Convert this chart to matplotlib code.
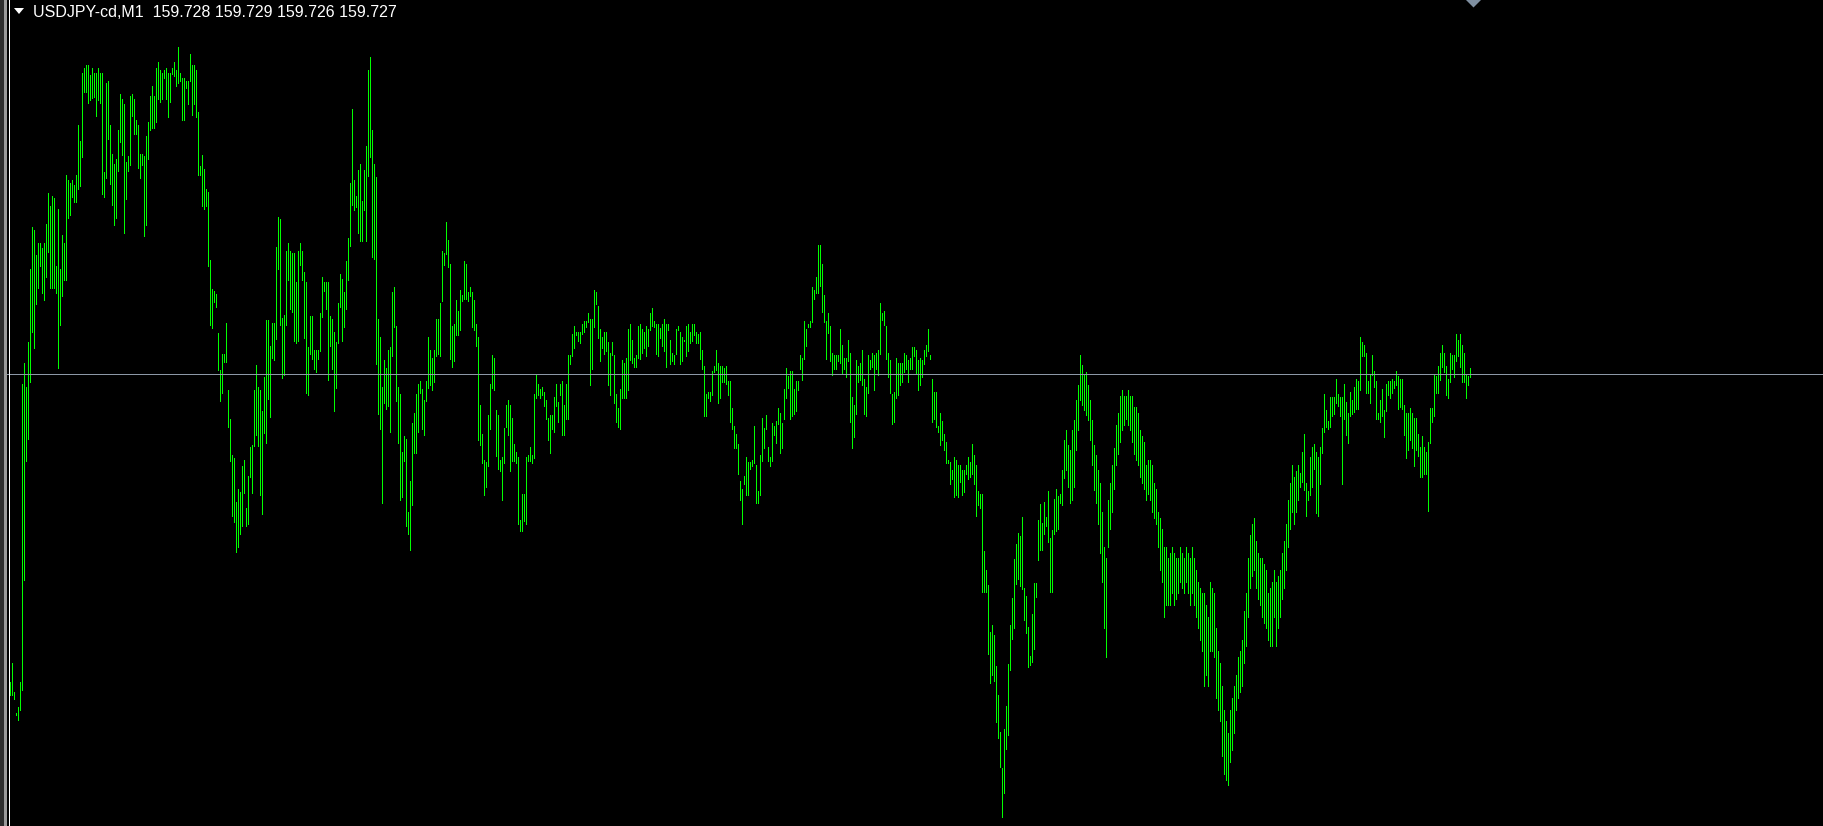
import matplotlib.pyplot as plt
import numpy as np
from matplotlib.patches import Polygon, Rectangle

symbol = 'USDJPY-cd,M1'
last_ohlc = [159.728, 159.729, 159.726, 159.727]  # open, high, low, close of current bar

# M1 bar highs / lows in points (0.001) above 159.000
high_pts = (
    [419, 438, 409, 388, 394, 419, 717, 738, 714, 759, 832, 874, 871, 846, 858, 858, 853, 858, 877, 908,
     895, 905, 903, 835, 892, 832, 866, 858, 926, 921, 918, 921, 916, 926, 976, 960, 1028, 1033, 1036, 1036,
     1026, 1033, 1028, 1028, 1033, 1028, 1028, 929, 1018, 1020, 976, 947, 937, 942, 971, 1007, 1002, 997, 939, 945,
     1005, 1007, 1002, 981, 976, 947, 947, 945, 965]
    + [979, 1005, 1015, 1005, 1033, 1039, 1031, 1028, 1031, 1033, 1028, 1028, 1033, 1039, 1031, 1054, 1028, 1023, 1023, 1020,
       1020, 1047, 1036, 1036, 1031, 989, 935, 946, 932, 912, 909, 841, 812, 810, 807, 768, 731, 747, 747, 778,
       711, 682, 646, 643, 599, 612, 609, 635, 641, 593, 625, 654, 656, 711, 736, 714, 711, 690, 724, 781,
       781, 755, 778, 778, 854, 884, 882, 783, 786]
    + [850, 858, 850, 848, 848, 819, 850, 858, 850, 829, 819, 754, 785, 785, 751, 751, 751, 788, 824, 819,
       819, 819, 785, 782, 769, 759, 798, 827, 822, 809, 840, 863, 918, 992, 921, 905, 931, 937, 900, 931,
       955, 1031, 1044, 971, 937, 924, 782, 764, 714, 741, 733, 751, 754, 809, 814, 775, 714, 707, 649, 665,
       662, 589, 620, 678, 688, 707, 717, 720, 712]
    + [701, 720, 764, 751, 743, 751, 782, 782, 798, 850, 848, 879, 861, 837, 775, 777, 801, 790, 811, 806,
       840, 837, 809, 814, 809, 801, 777, 764, 696, 667, 641, 639, 686, 717, 746, 743, 691, 686, 641, 644,
       673, 696, 701, 696, 683, 657, 649, 644, 581, 607, 607, 644, 646, 654, 646, 707, 727, 717, 712, 714,
       709, 701, 683, 686, 686, 704, 717, 699, 717]
    + [720, 696, 717, 746, 746, 767, 775, 769, 769, 769, 777, 780, 780, 788, 782, 782, 811, 809, 795, 772,
       764, 769, 769, 759, 748, 759, 746, 707, 693, 712, 741, 738, 743, 772, 777, 761, 743, 746, 775, 777,
       772, 769, 775, 772, 788, 793, 780, 777, 777, 773, 777, 782, 777, 777, 761, 748, 746, 772, 775, 769,
       764, 761, 775, 777, 769, 777, 777, 769, 767]
    + [769, 751, 735, 707, 709, 709, 730, 735, 751, 738, 735, 735, 733, 735, 720, 720, 693, 675, 667, 657,
       620, 612, 625, 644, 639, 639, 641, 675, 636, 610, 646, 683, 673, 686, 654, 644, 678, 675, 680, 693,
       688, 678, 712, 733, 725, 730, 730, 712, 720, 720, 746, 743, 780, 772, 777, 780, 814, 811, 824, 856,
       856, 837, 806, 780, 788, 775, 748, 746, 746]
    + [746, 772, 756, 743, 743, 761, 748, 704, 696, 741, 735, 738, 751, 722, 714, 746, 741, 748, 746, 748,
       751, 798, 788, 790, 775, 748, 741, 707, 709, 743, 738, 738, 738, 748, 746, 741, 743, 754, 754, 751,
       741, 743, 741, 751, 756, 772, 746, 722, 709, 709, 675, 688, 680, 667, 659, 641, 639, 631, 644, 641,
       636, 636, 631, 631, 636, 644, 639, 657, 646]
    + [636, 610, 607, 607, 550, 531, 516, 469, 476, 466, 435, 406, 369, 333, 372, 395, 437, 476, 503, 542,
       557, 568, 565, 584, 513, 505, 474, 445, 487, 518, 518, 581, 597, 578, 599, 584, 610, 563, 571, 602,
       612, 605, 607, 631, 661, 671, 656, 651, 671, 681, 701, 716, 746, 736, 726, 729, 716, 701, 681, 656,
       646, 631]
    + [618, 589, 554, 543, 601, 618, 636, 653, 676, 688, 705, 711, 705, 705, 711, 705, 705, 694, 694, 688,
       671, 665, 659, 636, 641, 641, 636, 618, 612, 589, 583, 572, 554, 554, 543, 548, 554, 548, 543, 543,
       554, 548, 543, 554, 548, 543, 554, 543, 531, 519, 513, 508, 508, 496, 484, 519, 513, 508, 473, 450,
       438, 415, 391, 380, 368, 391, 403, 415, 426, 444, 450, 461, 490, 508, 543, 566, 577, 583, 560, 548,
       543, 543, 537, 531, 508, 513, 519, 531, 519, 525, 531, 548, 560, 577, 601, 618, 636, 624, 630, 636]
    + [628, 649, 667, 618, 610, 644, 654, 657, 649, 644, 654, 673, 707, 691, 680, 704, 704, 704, 722, 707,
       704, 704, 717, 699, 688, 709, 701, 714, 722, 720, 764, 759, 756, 748, 720, 726, 746, 730, 720, 688,
       701, 712, 691, 717, 720, 720, 722, 720, 730, 725, 722, 722, 696, 688, 688, 693, 688, 683, 683, 667,
       654, 665, 654, 649, 659, 693, 693, 727, 725, 735, 748, 756, 748, 735, 722, 748, 746, 746, 767, 761,
       767, 756, 748, 727, 725, 733]
)

low_pts = (
    [406, 406, 402, 386, 381, 391, 411, 521, 640, 662, 719, 769, 753, 797, 813, 835, 808, 801, 824, 849,
     813, 813, 813, 808, 733, 776, 805, 821, 821, 883, 886, 904, 899, 899, 912, 915, 944, 1009, 1009, 998,
     1001, 1003, 1004, 985, 1001, 998, 907, 904, 923, 962, 917, 896, 876, 883, 930, 959, 946, 868, 902, 930,
     936, 985, 967, 967, 933, 923, 936, 865, 876]
    + [942, 971, 973, 973, 979, 1002, 999, 1002, 1023, 1002, 984, 999, 1027, 1025, 1015, 1018, 1020, 981, 981, 1013,
       997, 1020, 986, 997, 984, 926, 926, 895, 892, 895, 835, 776, 773, 799, 794, 731, 700, 708, 739, 739,
       674, 640, 585, 579, 549, 554, 567, 575, 608, 575, 577, 624, 608, 655, 666, 655, 606, 587, 668, 658,
       702, 684, 743, 741, 762, 832, 776, 723, 726]
    + [776, 821, 792, 789, 760, 758, 760, 836, 821, 763, 708, 706, 747, 742, 732, 729, 742, 750, 784, 810,
       792, 721, 755, 732, 690, 713, 758, 794, 760, 774, 792, 821, 855, 896, 891, 894, 868, 860, 860, 891,
       860, 925, 944, 844, 842, 737, 687, 672, 598, 698, 692, 695, 669, 745, 774, 700, 658, 601, 604, 640,
       575, 567, 551, 596, 648, 648, 669, 708, 672]
    + [666, 700, 713, 716, 711, 719, 745, 747, 745, 800, 836, 847, 834, 742, 734, 740, 766, 766, 771, 800,
       802, 802, 800, 805, 774, 771, 755, 661, 656, 638, 606, 614, 635, 672, 713, 711, 645, 632, 630, 601,
       638, 674, 666, 630, 640, 640, 638, 577, 570, 570, 580, 577, 640, 640, 638, 643, 703, 706, 703, 706,
       695, 682, 661, 648, 672, 669, 695, 679, 706]
    + [666, 666, 682, 682, 737, 745, 753, 766, 760, 758, 767, 769, 774, 779, 716, 732, 774, 797, 763, 740,
       753, 747, 750, 716, 706, 746, 698, 679, 674, 672, 703, 703, 703, 711, 741, 738, 734, 734, 743, 742,
       748, 753, 745, 755, 771, 775, 774, 747, 745, 763, 755, 750, 734, 771, 737, 740, 737, 747, 771, 737,
       740, 760, 745, 750, 758, 760, 766, 758, 758]
    + [742, 732, 685, 685, 703, 700, 706, 729, 731, 698, 703, 719, 719, 717, 706, 679, 672, 653, 653, 627,
       601, 577, 617, 606, 606, 632, 635, 638, 598, 598, 606, 640, 653, 672, 640, 635, 640, 666, 658, 677,
       648, 653, 682, 703, 713, 682, 685, 687, 690, 711, 732, 721, 742, 755, 774, 774, 779, 802, 808, 808,
       815, 789, 779, 742, 768, 740, 726, 732, 732]
    + [740, 738, 728, 732, 724, 740, 679, 653, 664, 687, 719, 721, 716, 687, 685, 708, 732, 734, 711, 732,
       726, 747, 781, 776, 742, 724, 708, 677, 679, 703, 706, 716, 719, 729, 732, 719, 732, 732, 745, 727,
       711, 716, 724, 737, 745, 750, 742, 679, 682, 674, 669, 656, 661, 651, 638, 638, 617, 622, 604, 606,
       604, 619, 606, 609, 627, 622, 624, 627, 617]
    + [585, 596, 593, 509, 509, 509, 447, 418, 426, 420, 379, 363, 334, 284, 308, 352, 366, 431, 462, 473,
       517, 522, 515, 512, 481, 468, 434, 436, 439, 452, 504, 541, 551, 551, 567, 575, 559, 509, 509, 567,
       570, 572, 598, 596, 623, 631, 614, 598, 601, 614, 651, 671, 701, 696, 691, 686, 681, 661, 636, 611,
       598, 577]
    + [548, 519, 473, 444, 554, 572, 589, 612, 636, 647, 659, 671, 676, 682, 676, 671, 659, 647, 641, 636,
       624, 618, 612, 601, 607, 601, 589, 583, 577, 554, 531, 519, 484, 496, 496, 496, 508, 496, 502, 508,
       519, 513, 508, 519, 508, 496, 508, 496, 484, 473, 461, 450, 415, 426, 415, 450, 450, 444, 403, 391,
       380, 345, 327, 321, 316, 339, 351, 368, 391, 403, 409, 415, 438, 455, 484, 513, 525, 531, 513, 502,
       496, 484, 478, 473, 461, 455, 455, 484, 455, 473, 484, 502, 513, 531, 554, 572, 589, 577, 589, 601]
    + [614, 619, 611, 585, 601, 606, 614, 632, 588, 585, 617, 648, 669, 674, 672, 674, 685, 687, 698, 695,
       685, 617, 682, 666, 658, 685, 687, 689, 692, 692, 711, 745, 745, 708, 708, 698, 726, 714, 682, 682,
       679, 685, 664, 690, 706, 703, 708, 713, 716, 692, 694, 692, 666, 643, 651, 661, 653, 635, 651, 645,
       624, 624, 627, 627, 590, 658, 679, 685, 708, 708, 721, 734, 729, 706, 703, 719, 732, 724, 740, 745,
       734, 719, 719, 703, 716, 724]
)

assert len(high_pts) == len(low_pts)

high = 159.0 + np.array(high_pts) * 0.001
low = 159.0 + np.array(low_pts) * 0.001
bars = np.arange(len(high))

W, H = 1824, 826
fig = plt.figure(figsize=(W / 100, H / 100), dpi=100, facecolor='black')

ax = fig.add_axes([0, 0, 1, 1])
ax.set_facecolor('black')
# two pixels per bar, chart starts 10 px from the left
ax.set_xlim(-5.25, -5.25 + W / 2)
ax.set_ylim(160.101 - H * 0.001, 160.101)
ax.vlines(bars, low, high, colors='#00ff00', linewidth=0.5, antialiased=False)
ax.axhline(last_ohlc[3], color='#8c98a6', linewidth=0.5, antialiased=False)
ax.axis('off')

# terminal chrome drawn in pixel coordinates
ov = fig.add_axes([0, 0, 1, 1])
ov.set_xlim(0, W)
ov.set_ylim(H, 0)
ov.patch.set_alpha(0)
ov.axis('off')
ov.add_patch(Rectangle((0, 0), 4, H, color='#2e2e2e', lw=0))
ov.add_patch(Rectangle((4, 0), 3.5, H, color='#9a9a9a', lw=0))
ov.add_patch(Rectangle((9, 0), 1.2, H, color='white', lw=0))
ov.add_patch(Polygon([(14, 8), (24, 8), (19, 14)], closed=True, color='white', lw=0))
ov.add_patch(Polygon([(1466, 0), (1481, 0), (1473.5, 7.5)], closed=True, color='#7f8fa0', lw=0))

title = f"{symbol}  " + " ".join(f"{v:.3f}" for v in last_ohlc)
ov.text(33, 17, title, color='white', fontsize=11.5, family='Liberation Sans', va='baseline', ha='left')

fig.savefig('out.png', dpi=100, facecolor='black')
